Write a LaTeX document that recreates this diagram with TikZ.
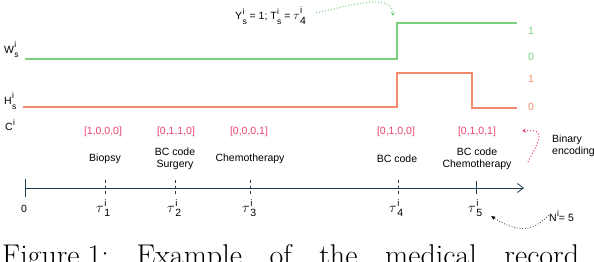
\documentclass[tikz,border=0pt]{standalone}
\usepackage{fontspec}
\setsansfont{Liberation Sans}
\usetikzlibrary{arrows.meta}
\definecolor{wgreen}{HTML}{7DCE7D}
\definecolor{horange}{HTML}{F28A6B}
\definecolor{codepink}{HTML}{E8436E}
\definecolor{axisc}{HTML}{1F3D4C}
% base letter with stacked superscript and subscript of nearly the same size
\newcommand{\ssup}[3]{#1\kern0.3pt\rlap{\raisebox{5.5pt}{\fontsize{8.5}{8.5}\selectfont #2}}\raisebox{-5pt}{\fontsize{8.5}{8.5}\selectfont #3}}
\newcommand{\tauij}[2][15]{{\fontsize{#1}{#1}\selectfont$\tau$}\kern0.4pt\rlap{\raisebox{6pt}{\fontsize{9.5}{9.5}\selectfont i}}\raisebox{-4.5pt}{\fontsize{10.5}{10.5}\selectfont #2}}
\begin{document}
\begin{tikzpicture}[x=1pt,y=-1pt,
  txt/.style={font=\sffamily\fontsize{10.5}{12.5}\selectfont, inner sep=0pt, align=center},
  codelbl/.style={txt, text=codepink},
  lvlg/.style={txt, text=wgreen},
  lvlo/.style={txt, text=horange},
  wline/.style={wgreen, line width=1.7pt},
  hline/.style={horange, line width=1.7pt},
  axisline/.style={axisc, line width=1pt},
  tickd/.style={axisc, line width=0.8pt, dash pattern=on 3pt off 2.5pt},
  ticks/.style={axisc, line width=0.8pt},
  dotarrow/.style={dotted, line width=1pt},
  taulbl/.style={txt, anchor=base west}
]
\useasboundingbox (0,0) rectangle (594,262);

% row labels
\node[txt, anchor=base west] (wlab) at (4,53) {\ssup{W}{i}{s}};
\node[txt, anchor=base west] (hlab) at (4,104) {\ssup{H}{i}{s}};
\node[txt, anchor=base west] (clab) at (5,130) {C\kern0.3pt\raisebox{5pt}{\fontsize{8.5}{8.5}\selectfont i}};

% W signal
\coordinate (w0) at (25,59);
\coordinate (w1) at (397,59);
\coordinate (w2) at (397,23);
\coordinate (w3) at (517,23);
\draw[wline] (w0) -- (w1) -- (w2) -- (w3);
\node[lvlg] (wone) at (531,31) {1};
\node[lvlg] (wzero) at (531,57) {0};

% H signal
\coordinate (h0) at (23,107);
\coordinate (h1) at (397,107);
\coordinate (h2) at (397,73);
\coordinate (h3) at (472,73);
\coordinate (h4) at (472,108);
\coordinate (h5) at (517,108);
\draw[hline] (h0) -- (h1) -- (h2) -- (h3) -- (h4) -- (h5);
\node[lvlo] (hone) at (531,79) {1};
\node[lvlo] (hzero) at (531,107) {0};

% top annotation
\node[txt, anchor=base west] (yts) at (235,20) {\ssup{Y}{i}{s} = 1; \ssup{T}{i}{s} = \tauij[13]{4}};
\coordinate (wstep) at (393,16);
\draw[dotarrow, wgreen, -{Stealth[length=4pt,width=4pt]}] (yts.east) ++(10,-3) .. controls (358,3) and (392,-6) .. (wstep);

% codes
\node[codelbl] (c1) at (103,132) {[1,0,0,0]};
\node[codelbl] (c2) at (176,132) {[0,1,1,0]};
\node[codelbl] (c3) at (249,132) {[0,0,0,1]};
\node[codelbl] (c4) at (396,132) {[0,1,0,0]};
\node[codelbl] (c5) at (477,132) {[0,1,0,1]};

% events
\node[txt] (e1) at (105,159) {Biopsy};
\node[txt] (e2) at (175,159) {BC code\\Surgery};
\node[txt] (e3) at (250,159) {Chemotherapy};
\node[txt] (e4) at (397,159) {BC code};
\node[txt] (e5) at (477,159) {BC code\\Chemotherapy};

% binary encoding
\node[txt, anchor=west, align=left] (benc) at (552,146) {Binary\\encoding};
\coordinate (bstart) at (528,162);
\coordinate (bend) at (522,131);
\draw[dotarrow, codepink, -{Stealth[length=4pt,width=4pt]}] (bstart) .. controls (536,145) and (550,128) .. (bend);

% axis
\coordinate (a0) at (25,188);
\coordinate (a1) at (524,188);
\draw[axisline, -{Straight Barb[length=6pt,width=9pt,line width=0.8pt]}] (a0) -- (a1);
\draw[axisline] (25,179) -- (25,197);
\draw[tickd] (105,180) -- (105,196);
\draw[tickd] (175,180) -- (175,196);
\draw[tickd] (250,180) -- (250,196);
\draw[tickd] (398,180) -- (398,196);
\draw[ticks] (476,181) -- (476,194);

% tick labels
\node[txt] (t0) at (24,209) {0};
\node[taulbl] (t1) at (96,212) {\tauij{1}};
\node[taulbl] (t2) at (167,212) {\tauij{2}};
\node[taulbl] (t3) at (242,212) {\tauij{3}};
\node[taulbl] (t4) at (389,212) {\tauij{4}};
\node[taulbl] (t5) at (468,212) {\tauij{5}};

% N^i = 5
\node[txt, anchor=base west] (nlab) at (549,221) {N\kern0.3pt\raisebox{5pt}{\fontsize{8.5}{8.5}\selectfont i}= 5};
\coordinate (nend) at (491,216);
\draw[dotarrow, line width=0.7pt, black, -{Latex[length=4pt,width=4pt]}] (nlab.west) .. controls (535,228) and (522,236) .. (nend);

% caption (cut off by the page edge)
\node[font=\rmfamily\fontsize{30}{36}\selectfont, inner sep=0pt, anchor=base west] (cap) at (2,265)
  {\hbox to 577pt{Figure\hspace{8pt}1:\hfill Example\hfill of\hfill the\hfill medical\hfill record}};
\end{tikzpicture}
\end{document}
